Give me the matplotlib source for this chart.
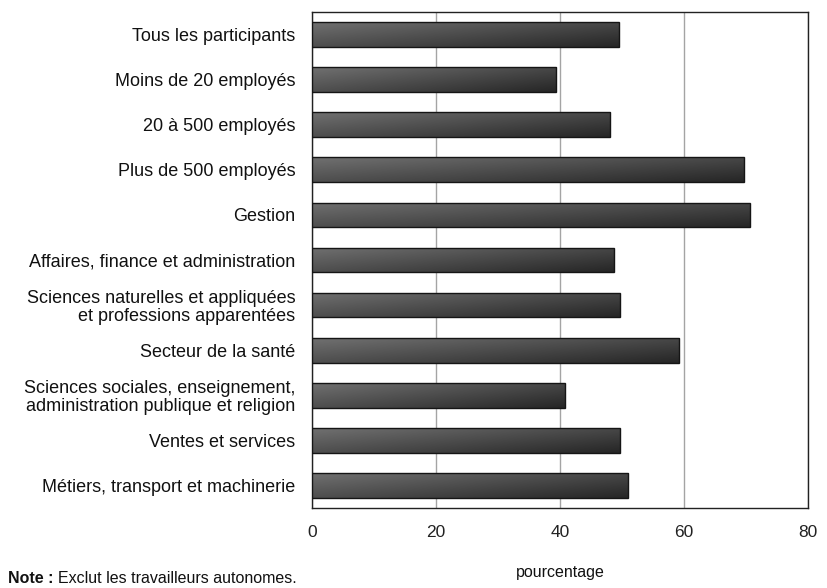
import numpy as np
import matplotlib
matplotlib.use("Agg")
import matplotlib.pyplot as plt

plt.rcParams['font.family'] = ['Liberation Sans', 'DejaVu Sans']

categories = [
    "Tous les participants",
    "Moins de 20 employés",
    "20 à 500 employés",
    "Plus de 500 employés",
    "Gestion",
    "Affaires, finance et administration",
    "Sciences naturelles et appliquées\net professions apparentées",
    "Secteur de la santé",
    "Sciences sociales, enseignement,\nadministration publique et religion",
    "Ventes et services",
    "Métiers, transport et machinerie",
]
values = [49.5, 39.4, 48.1, 69.6, 70.6, 48.7, 49.6, 59.2, 40.8, 49.6, 51.0]
xticks = [0, 20, 40, 60, 80]

fig = plt.figure(figsize=(8.27, 5.88), dpi=100)
ax = fig.add_axes([312 / 827, 1 - 508 / 588, 496 / 827, 496 / 588])

y = np.arange(len(categories))
bars = ax.barh(y, values, height=0.55, color='#4a4a4a', edgecolor='#151515',
               linewidth=1.0, zorder=3)

# gradient fill, lighter at top-left, darker at bottom-right
gx, gy = np.meshgrid(np.linspace(0, 1, 200), np.linspace(0, 1, 20))
grad = 0.55 * gx + 0.45 * gy
cmap = matplotlib.colors.LinearSegmentedColormap.from_list('g', ['#707070', '#262626'])
for b in bars:
    x0, y0 = b.get_x(), b.get_y()
    w, h = b.get_width(), b.get_height()
    im = ax.imshow(grad, cmap=cmap, extent=[x0, x0 + w, y0 + h, y0],
                   aspect='auto', zorder=3.5, interpolation='bilinear')
    im.set_clip_path(b)
    b.set_facecolor('none')
    b.set_zorder(4)

ax.set_xlim(0, 80)
ax.set_ylim(len(categories) - 0.5, -0.5)
ax.set_xticks(xticks)
ax.set_xticklabels([str(t) for t in xticks], fontsize=12.5, color='#222222')
ax.set_yticks(y)
ax.set_yticklabels(categories, fontsize=13, color='#111111', linespacing=1.05)
ax.tick_params(axis='both', length=0)
ax.tick_params(axis='y', pad=12)
ax.tick_params(axis='x', pad=12)
ax.xaxis.grid(True, color='#a4a4a4', linewidth=1.0, zorder=1)
for s in ax.spines.values():
    s.set_color('#222222')
    s.set_linewidth(1.0)

fig.text((312 + 808) / 2 / 827, 1 - 572 / 588, "pourcentage", ha='center',
         va='center', fontsize=11.5, color='#111111')
note = fig.text(8 / 827, 1 - 586 / 588, "Note :", fontweight='bold', fontsize=11.5,
                va='bottom', ha='left', color='#111111')
fig.canvas.draw()
bb = note.get_window_extent()
fig.text((bb.x1 + 5) / 827, 1 - 586 / 588, "Exclut les travailleurs autonomes.",
         fontsize=11.5, va='bottom', ha='left', color='#111111')

fig.savefig("out.png", dpi=100)
